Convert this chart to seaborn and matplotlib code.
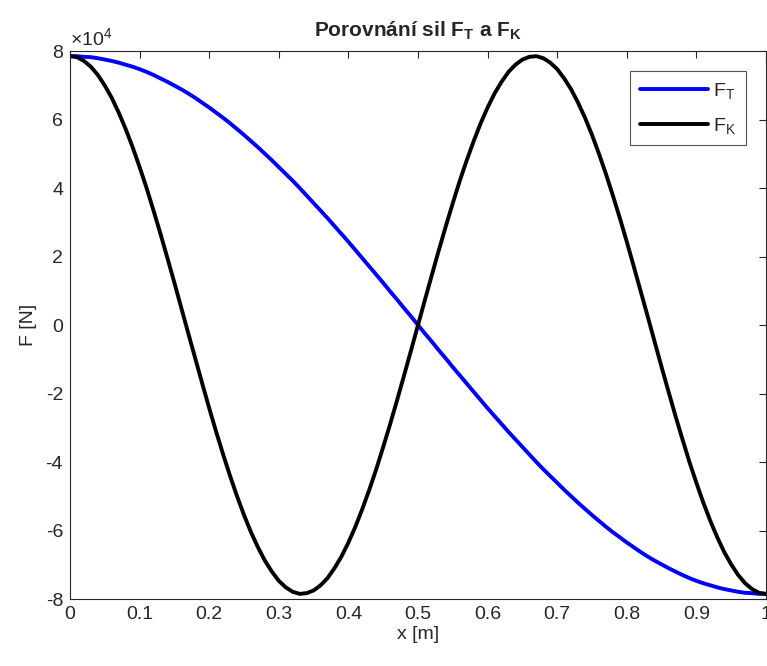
import numpy as np
import pandas as pd
import matplotlib
matplotlib.use("Agg")
import matplotlib.pyplot as plt
from matplotlib.ticker import FuncFormatter
import seaborn as sb

# hodnoty (krok 0.01 m)
x = [round(0.01 * i, 2) for i in range(101)]

F_T = [78500, 78500, 78300, 78200, 77900, 77500, 77100, 76600, 76000, 75400,
       74700, 73900, 73000, 72000, 71000, 69900, 68800, 67600, 66300, 64900,
       63500, 62000, 60500, 58900, 57200, 55500, 53700, 51900, 50000, 48100,
       46100, 44100, 42100, 40000, 37800, 35600, 33400, 31200, 28900, 26600,
       24300, 21900, 19500, 17100, 14700, 12300, 9800, 7400, 4900, 2500,
       0,
       -2500, -4900, -7400, -9800, -12300, -14700, -17100, -19500, -21900, -24300,
       -26600, -28900, -31200, -33400, -35600, -37800, -40000, -42100, -44100, -46100,
       -48100, -50000, -51900, -53700, -55500, -57200, -58900, -60500, -62000, -63500,
       -64900, -66300, -67600, -68800, -69900, -71000, -72000, -73000, -73900, -74700,
       -75400, -76000, -76600, -77100, -77500, -77900, -78200, -78300, -78500, -78500]

F_K = [78500, 78200, 77100, 75400, 73000, 69900, 66300, 62000, 57200, 51900,
       46100, 40000, 33400, 26600, 19500, 12300, 4900, -2500, -9800, -17100,
       -24300, -31200, -37800, -44100, -50000, -55500, -60500, -64900, -68800, -72000,
       -74700, -76600, -77900, -78500, -78300, -77500, -76000, -73900, -71000, -67600,
       -63500, -58900, -53700, -48100, -42100, -35600, -28900, -21900, -14700, -7400,
       0,
       7400, 14700, 21900, 28900, 35600, 42100, 48100, 53700, 58900, 63500,
       67600, 71000, 73900, 76000, 77500, 78300, 78500, 77900, 76600, 74700,
       72000, 68800, 64900, 60500, 55500, 50000, 44100, 37800, 31200, 24300,
       17100, 9800, 2500, -4900, -12300, -19500, -26600, -33400, -40000, -46100,
       -51900, -57200, -62000, -66300, -69900, -73000, -75400, -77100, -78200, -78500]

labels = ["$F_T$", "$F_K$"]

df = pd.DataFrame({"x": x * 2,
                   "F": F_T + F_K,
                   "sila": [labels[0]] * len(x) + [labels[1]] * len(x)})

sb.set_style("white")
plt.rcParams['font.family'] = ['Liberation Sans', 'DejaVu Sans']
plt.rcParams['mathtext.default'] = 'regular'

fig = plt.figure(figsize=(7.67, 6.66), dpi=100)
ax = fig.add_axes([0.0913, 0.1006, 0.9074, 0.8228])

sb.lineplot(data=df, x="x", y="F", hue="sila", palette=["#0000ff", "#000000"],
            linewidth=2.8, ax=ax, sort=False)

ax.set_xlim(0, 1)
ax.set_ylim(-80000, 80000)
ax.set_xticks(np.arange(0, 1.01, 0.1))
ax.set_yticks(np.arange(-80000, 80001, 20000))
ax.xaxis.set_major_formatter(FuncFormatter(lambda v, p: "%g" % round(v, 1)))
ax.yaxis.set_major_formatter(FuncFormatter(lambda v, p: "%g" % (v / 1e4)))
ax.tick_params(direction="in", length=5, width=0.8, top=True, right=True,
               labelsize=14, colors="#262626", pad=5)
for s in ax.spines.values():
    s.set_color("#262626")
    s.set_linewidth(0.8)

ax.text(0.0, 1.004, r"$\times 10^{4}$", transform=ax.transAxes, fontsize=14,
        color="#262626", ha="left", va="bottom")

ax.set_xlabel("x [m]", fontsize=14, color="#262626", labelpad=2)
ax.set_ylabel("F [N]", fontsize=14, color="#262626", labelpad=6)
ax.set_title("Porovnání sil $F_T$ a $F_K$", fontsize=15, fontweight="bold",
             pad=10)

leg = ax.legend(loc="upper right", fontsize=14, frameon=True, fancybox=False,
                handlelength=3.5, handletextpad=0.25, labelspacing=0.75,
                borderpad=0.5, borderaxespad=1.05, title=None)
leg.get_frame().set_edgecolor("#262626")
leg.get_frame().set_linewidth(0.8)

plt.savefig("out.png", dpi=100)
